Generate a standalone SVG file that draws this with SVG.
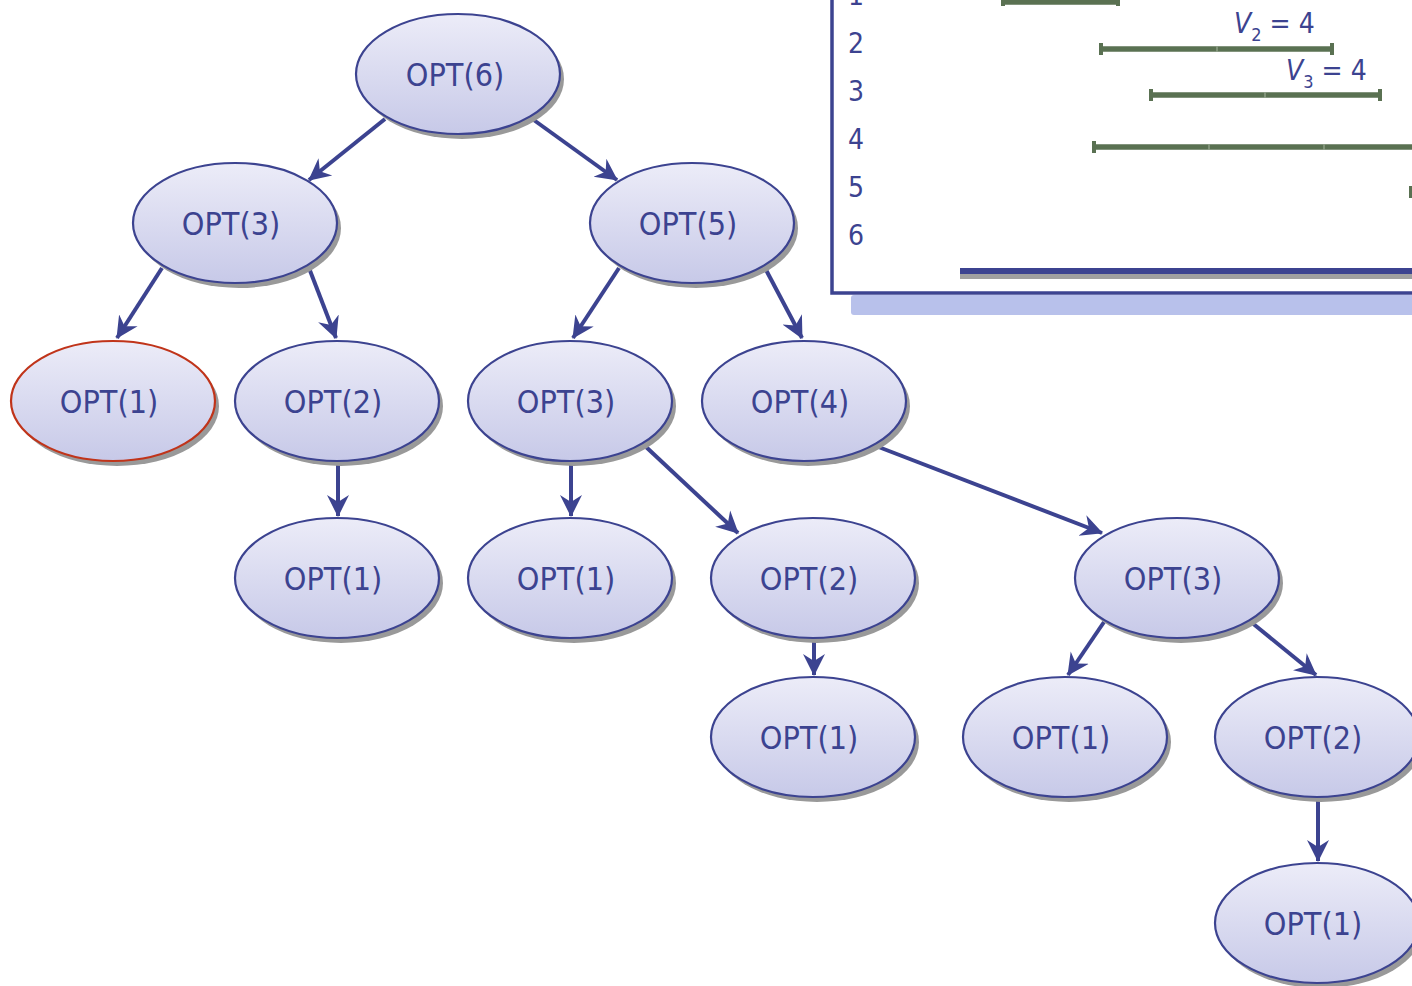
<svg xmlns="http://www.w3.org/2000/svg" width="1412" height="986" viewBox="0 0 1412 986">
<defs>
<linearGradient id="g" x1="0" y1="0" x2="0" y2="1">
<stop offset="0" stop-color="#ececf8"/>
<stop offset="1" stop-color="#c7c9e8"/>
</linearGradient>
<marker id="ah" markerUnits="userSpaceOnUse" markerWidth="24" markerHeight="24" refX="21" refY="11" orient="auto" viewBox="0 0 24 22">
<path d="M0,0 L22,11 L0,22 L7,11 z" fill="#3c4390"/>
</marker>
<style>
.sh{fill:#999999}
.nd{fill:url(#g);stroke:#3c4390;stroke-width:2.2}
.red{stroke:#c0341a}
.lb{font-family:"DejaVu Sans Condensed","DejaVu Sans",sans-serif;font-size:32px;fill:#3c4390;text-anchor:middle}
.ed{stroke:#3c4390;stroke-width:4;fill:none;marker-end:url(#ah)}
.bar{stroke:#5a7152;stroke-width:5.5}
.tk{stroke:#5a7152;stroke-width:4}
.sep{stroke:#a8b8a0;stroke-width:1}
.rl{font-family:"DejaVu Sans Condensed","DejaVu Sans",sans-serif;font-size:28px;fill:#3c4390;text-anchor:middle}
.vl{font-family:"DejaVu Sans Condensed","DejaVu Sans",sans-serif;font-size:28px;fill:#3c4390}
</style>
</defs>

<g id="panel">
<rect x="851" y="295" width="570" height="20" rx="3" fill="#b8c1eb"/>
<path d="M832,-5 L832,293 L1415,293" fill="none" stroke="#3c4390" stroke-width="3.5"/>
<text class="rl" x="856" y="5">1</text>
<text class="rl" x="856" y="53">2</text>
<text class="rl" x="856" y="101">3</text>
<text class="rl" x="856" y="149">4</text>
<text class="rl" x="856" y="197">5</text>
<text class="rl" x="856" y="245">6</text>
<line class="bar" x1="1002" y1="2" x2="1119" y2="2"/>
<line class="tk" x1="1003" y1="-4" x2="1003" y2="6"/>
<line class="tk" x1="1118" y1="-4" x2="1118" y2="6"/>
<line class="bar" x1="1100" y1="49" x2="1333" y2="49"/>
<line class="tk" x1="1101" y1="43" x2="1101" y2="55"/>
<line class="tk" x1="1332" y1="43" x2="1332" y2="55"/>
<line class="sep" x1="1217" y1="46.5" x2="1217" y2="51.5"/>
<line class="bar" x1="1150" y1="95" x2="1381" y2="95"/>
<line class="tk" x1="1151" y1="89" x2="1151" y2="101"/>
<line class="tk" x1="1380" y1="89" x2="1380" y2="101"/>
<line class="sep" x1="1265" y1="92.5" x2="1265" y2="97.5"/>
<line class="bar" x1="1093" y1="147" x2="1415" y2="147"/>
<line class="tk" x1="1094" y1="141" x2="1094" y2="153"/>
<line class="sep" x1="1209" y1="144.5" x2="1209" y2="149.5"/>
<line class="sep" x1="1324" y1="144.5" x2="1324" y2="149.5"/>
<line class="tk" x1="1411" y1="186" x2="1411" y2="198"/>
<text class="vl" x="1234" y="33"><tspan font-style="italic">V</tspan><tspan font-size="18" dy="8">2</tspan><tspan dy="-8"> = 4</tspan></text>
<text class="vl" x="1286" y="80"><tspan font-style="italic">V</tspan><tspan font-size="18" dy="8">3</tspan><tspan dy="-8"> = 4</tspan></text>
<rect x="960" y="274" width="455" height="5" fill="#a0a0a0"/>
<rect x="960" y="268" width="455" height="6" fill="#3c4390"/>
</g>

<g id="connectors">
<line class="ed" x1="385" y1="119" x2="309" y2="180"/>
<line class="ed" x1="531" y1="118" x2="617" y2="180"/>
<line class="ed" x1="162" y1="268" x2="117" y2="338"/>
<line class="ed" x1="309" y1="268" x2="336" y2="338"/>
<line class="ed" x1="619" y1="268" x2="573" y2="338"/>
<line class="ed" x1="765" y1="268" x2="802" y2="338"/>
<line class="ed" x1="338" y1="462" x2="338" y2="516"/>
<line class="ed" x1="571" y1="462" x2="571" y2="516"/>
<line class="ed" x1="645" y1="446" x2="738" y2="533"/>
<line class="ed" x1="876" y1="446" x2="1102" y2="533"/>
<line class="ed" x1="814" y1="640" x2="814" y2="675"/>
<line class="ed" x1="1104" y1="622" x2="1068" y2="675"/>
<line class="ed" x1="1251" y1="622" x2="1316" y2="675"/>
<line class="ed" x1="1318" y1="798" x2="1318" y2="861"/>
</g>

<g id="n6"><ellipse class="sh" cx="462" cy="79" rx="102" ry="60"/><ellipse class="nd" cx="458" cy="74" rx="102" ry="60"/><text class="lb" x="455" y="86">OPT(6)</text></g>
<g id="n3a"><ellipse class="sh" cx="239" cy="228" rx="102" ry="60"/><ellipse class="nd" cx="235" cy="223" rx="102" ry="60"/><text class="lb" x="231" y="235">OPT(3)</text></g>
<g id="n5"><ellipse class="sh" cx="696" cy="228" rx="102" ry="60"/><ellipse class="nd" cx="692" cy="223" rx="102" ry="60"/><text class="lb" x="688" y="235">OPT(5)</text></g>
<g id="n1a"><ellipse class="sh" cx="117" cy="406" rx="102" ry="60"/><ellipse class="nd red" cx="113" cy="401" rx="102" ry="60"/><text class="lb" x="109" y="413">OPT(1)</text></g>
<g id="n2a"><ellipse class="sh" cx="341" cy="406" rx="102" ry="60"/><ellipse class="nd" cx="337" cy="401" rx="102" ry="60"/><text class="lb" x="333" y="413">OPT(2)</text></g>
<g id="n3b"><ellipse class="sh" cx="574" cy="406" rx="102" ry="60"/><ellipse class="nd" cx="570" cy="401" rx="102" ry="60"/><text class="lb" x="566" y="413">OPT(3)</text></g>
<g id="n4"><ellipse class="sh" cx="808" cy="406" rx="102" ry="60"/><ellipse class="nd" cx="804" cy="401" rx="102" ry="60"/><text class="lb" x="800" y="413">OPT(4)</text></g>
<g id="n1b"><ellipse class="sh" cx="341" cy="583" rx="102" ry="60"/><ellipse class="nd" cx="337" cy="578" rx="102" ry="60"/><text class="lb" x="333" y="590">OPT(1)</text></g>
<g id="n1c"><ellipse class="sh" cx="574" cy="583" rx="102" ry="60"/><ellipse class="nd" cx="570" cy="578" rx="102" ry="60"/><text class="lb" x="566" y="590">OPT(1)</text></g>
<g id="n2b"><ellipse class="sh" cx="817" cy="583" rx="102" ry="60"/><ellipse class="nd" cx="813" cy="578" rx="102" ry="60"/><text class="lb" x="809" y="590">OPT(2)</text></g>
<g id="n3c"><ellipse class="sh" cx="1181" cy="583" rx="102" ry="60"/><ellipse class="nd" cx="1177" cy="578" rx="102" ry="60"/><text class="lb" x="1173" y="590">OPT(3)</text></g>
<g id="n1d"><ellipse class="sh" cx="817" cy="742" rx="102" ry="60"/><ellipse class="nd" cx="813" cy="737" rx="102" ry="60"/><text class="lb" x="809" y="749">OPT(1)</text></g>
<g id="n1e"><ellipse class="sh" cx="1069" cy="742" rx="102" ry="60"/><ellipse class="nd" cx="1065" cy="737" rx="102" ry="60"/><text class="lb" x="1061" y="749">OPT(1)</text></g>
<g id="n2c"><ellipse class="sh" cx="1321" cy="742" rx="102" ry="60"/><ellipse class="nd" cx="1317" cy="737" rx="102" ry="60"/><text class="lb" x="1313" y="749">OPT(2)</text></g>
<g id="n1f"><ellipse class="sh" cx="1321" cy="928" rx="102" ry="60"/><ellipse class="nd" cx="1317" cy="923" rx="102" ry="60"/><text class="lb" x="1313" y="935">OPT(1)</text></g>
</svg>
